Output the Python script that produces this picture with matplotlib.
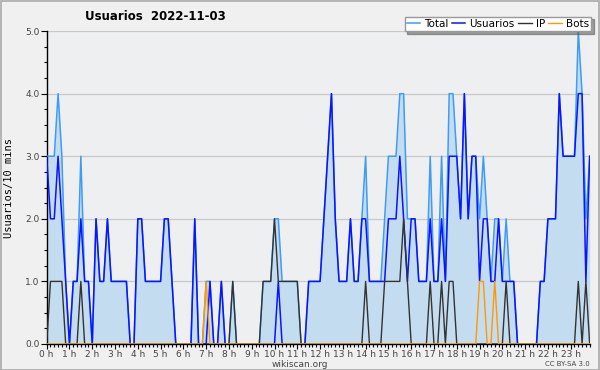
import matplotlib
matplotlib.use("Agg")
import matplotlib.pyplot as plt
import numpy as np

title = "Usuarios  2022-11-03"
series_names = ["Total", "Usuarios", "IP", "Bots"]
hour_labels = [f"{h} h" for h in range(24)]

usuarios = [3, 2, 2, 3, 2, 1, 0, 1, 1, 2, 1, 1, 0, 2, 1, 1, 2, 1, 1, 1, 1, 1, 0, 0,
            2, 2, 1, 1, 1, 1, 1, 2, 2, 1, 0, 0, 0, 0, 0, 2, 0, 0, 0, 1, 0, 0, 1, 0,
            0, 0, 0, 0, 0, 0, 0, 0, 0, 0, 0, 0, 0, 1, 0, 0, 0, 0, 0, 0, 0, 1, 1, 1,
            1, 2, 3, 4, 2, 1, 1, 1, 2, 1, 1, 2, 2, 1, 1, 1, 1, 1, 2, 2, 2, 3, 2, 1,
            2, 2, 1, 1, 1, 2, 1, 1, 2, 1, 3, 3, 3, 2, 4, 2, 3, 3, 1, 2, 2, 1, 1, 2,
            1, 1, 1, 1, 0, 0, 0, 0, 0, 0, 1, 1, 2, 2, 2, 4, 3, 3, 3, 3, 4, 4, 1, 3]
ip = [0, 1, 1, 1, 1, 0, 0, 0, 0, 1, 0, 0, 0, 0, 0, 0, 0, 0, 0, 0, 0, 0, 0, 0,
      0, 0, 0, 0, 0, 0, 0, 0, 0, 0, 0, 0, 0, 0, 0, 0, 0, 0, 0, 0, 0, 0, 0, 0,
      0, 1, 0, 0, 0, 0, 0, 0, 0, 1, 1, 1, 2, 1, 1, 1, 1, 1, 1, 0, 0, 0, 0, 0,
      0, 0, 0, 0, 0, 0, 0, 0, 0, 0, 0, 0, 1, 0, 0, 0, 0, 1, 1, 1, 1, 1, 2, 1,
      0, 0, 0, 0, 0, 1, 0, 0, 1, 0, 1, 1, 0, 0, 0, 0, 0, 0, 0, 0, 0, 0, 0, 0,
      0, 1, 0, 0, 0, 0, 0, 0, 0, 0, 0, 0, 0, 0, 0, 0, 0, 0, 0, 0, 1, 0, 1, 0]
bots = [0, 0, 0, 0, 0, 0, 0, 0, 0, 0, 0, 0, 0, 0, 0, 0, 0, 0, 0, 0, 0, 0, 0, 0,
        0, 0, 0, 0, 0, 0, 0, 0, 0, 0, 0, 0, 0, 0, 0, 0, 0, 0, 1, 0, 0, 0, 0, 0,
        0, 0, 0, 0, 0, 0, 0, 0, 0, 0, 0, 0, 0, 0, 0, 0, 0, 0, 0, 0, 0, 0, 0, 0,
        0, 0, 0, 0, 0, 0, 0, 0, 0, 0, 0, 0, 0, 0, 0, 0, 0, 0, 0, 0, 0, 0, 0, 0,
        0, 0, 0, 0, 0, 0, 0, 0, 0, 0, 0, 0, 0, 0, 0, 0, 0, 0, 1, 1, 0, 0, 1, 0,
        0, 0, 0, 0, 0, 0, 0, 0, 0, 0, 0, 0, 0, 0, 0, 0, 0, 0, 0, 0, 0, 0, 0, 0]
total = [3, 3, 3, 4, 3, 1, 0, 1, 1, 3, 1, 1, 0, 2, 1, 1, 2, 1, 1, 1, 1, 1, 0, 0,
         2, 2, 1, 1, 1, 1, 1, 2, 2, 1, 0, 0, 0, 0, 0, 2, 0, 0, 1, 1, 0, 0, 1, 0,
         0, 1, 0, 0, 0, 0, 0, 0, 0, 1, 1, 1, 2, 2, 1, 1, 1, 1, 1, 0, 0, 1, 1, 1,
         1, 2, 3, 4, 2, 1, 1, 1, 2, 1, 1, 2, 3, 1, 1, 1, 1, 2, 3, 3, 3, 4, 4, 2,
         2, 2, 1, 1, 1, 3, 1, 1, 3, 1, 4, 4, 3, 2, 4, 2, 3, 3, 2, 3, 2, 1, 2, 2,
         1, 2, 1, 1, 0, 0, 0, 0, 0, 0, 1, 1, 2, 2, 2, 4, 3, 3, 3, 3, 5, 4, 2, 3]

bg = "#eeeff1"
fig = plt.figure(figsize=(6, 3.7), dpi=100, facecolor="#f0f0f0")
ax = fig.add_axes([0.0778, 0.0703, 0.905, 0.8457], facecolor=bg)

x = np.arange(len(total))
ax.fill_between(x, 0, total, color="#c4dcf0", zorder=1, linewidth=0)
ax.plot(x, total, color="#3f9cf5", lw=1.1, zorder=3, label=series_names[0])
ax.plot(x, usuarios, color="#0a14ff", lw=1.1, zorder=4, label=series_names[1])
ax.plot(x, ip, color="#333333", lw=1.0, zorder=5, label=series_names[2])
ax.plot(x, bots, color="#ff9900", lw=1.0, zorder=6, label=series_names[3])

ax.set_xlim(0, len(total) - 1)
ax.set_ylim(0, 5)
ax.set_yticks(np.arange(0, 5.01, 1))
ax.set_yticklabels([f"{v:.1f}" for v in np.arange(0, 5.01, 1)])
ax.set_yticks(np.arange(0, 5.01, 0.25), minor=True)
ax.set_xticks(np.arange(0, 144, 6))
ax.set_xticklabels(hour_labels)
ax.set_xticks(np.arange(0, 144, 1), minor=True)
ax.grid(axis="y", which="major", color="#c8c8c8", lw=0.9, zorder=0)
ax.set_axisbelow(True)
for s in ["top", "right"]:
    ax.spines[s].set_visible(False)
for s in ["left", "bottom"]:
    ax.spines[s].set_color("black")
    ax.spines[s].set_linewidth(1.0)
ax.tick_params(axis="x", which="major", direction="out", length=3.5, width=0.8,
               labelsize=6.5, labelcolor="#444444", pad=0.5)
ax.tick_params(axis="y", which="major", direction="out", length=4, width=0.8,
               labelsize=6.5, labelcolor="#444444", pad=1)
ax.tick_params(axis="both", which="minor", direction="out", length=2.5, width=0.8)
ax.set_ylabel("Usuarios/10 mins", family="DejaVu Sans Mono", fontsize=7.5, labelpad=8)

fig.text(0.142, 0.955, title, fontsize=8.5, fontweight="bold", ha="left", va="center")
fig.text(0.5, 0.016, "wikiscan.org", fontsize=6.5, color="#444444", ha="center", va="center")
fig.text(0.983, 0.016, "CC BY-SA 3.0", fontsize=5, color="#444444", ha="right", va="center")

leg = fig.legend(loc="upper right", bbox_to_anchor=(0.985, 0.955), ncol=4, fontsize=7.5,
                 handlelength=1.3, handletextpad=0.4, columnspacing=0.3,
                 frameon=True, fancybox=False, shadow=True, borderpad=0.2,
                 borderaxespad=0)
leg.get_frame().set_edgecolor("#999999")
leg.get_frame().set_facecolor("white")

border = plt.Rectangle((0.001, 0.001), 0.997, 0.997, transform=fig.transFigure,
                       fill=False, edgecolor="#aaaaaa", lw=1.2)
fig.patches.append(border)

fig.savefig("out.png", dpi=100, facecolor=fig.get_facecolor())
